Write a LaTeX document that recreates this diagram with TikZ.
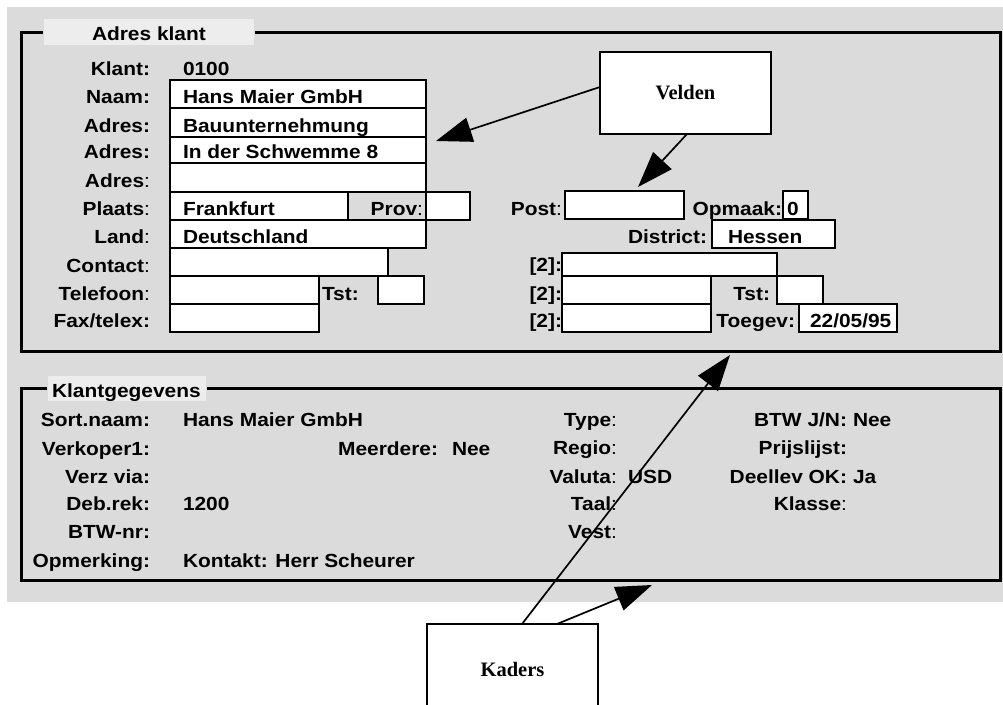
\documentclass[tikz,border=0pt]{standalone}
\usepackage{fontspec}
\setmainfont{Liberation Sans}[FakeStretch=1.1]
\newfontfamily\serifb{Liberation Serif}
\usetikzlibrary{arrows.meta,calc}
\definecolor{bgdots}{gray}{0.86}
\definecolor{lblbg}{gray}{0.93}
\begin{document}
\begin{tikzpicture}[x=1pt,y=-1pt,
  every node/.style={inner sep=0pt,outer sep=0pt},
  txt/.style={font=\fontsize{19}{22}\selectfont\bfseries},
  lbl/.style={txt,anchor=base east},
  val/.style={txt,anchor=base west},
  field/.style={draw=black,fill=white,line width=1.5pt},
  frame/.style={draw=black,line width=3pt},
  callout/.style={draw=black,fill=white,line width=1.5pt,
     font=\fontsize{20.5}{24}\selectfont\serifb\bfseries},
  pointer/.style={draw=black,line width=1.7pt,-{Triangle[length=36pt,width=25pt]}}]
\useasboundingbox (0,0) rectangle (1003,704);
\clip (0,0) rectangle (1003,704);
% background
\fill[bgdots] (7,7) rectangle (1003,602);
% frames
\draw[frame] (43,32) -- (21,32) -- (21,351) -- (1000,351) -- (1000,32) -- (255,32);
\fill[lblbg] (44,19) rectangle (254,45);
\node[val] (tadres) at (92,40) {Adres klant};
\draw[frame] (47,388) -- (21,388) -- (21,580) -- (1000,580) -- (1000,388) -- (207,388);
\fill[lblbg] (48,376) rectangle (206,401);
\node[val] (tklant) at (52,397) {Klantgegevens};
% fields, top frame
\path[field] (170,80) rectangle (426,108);
\path[field] (170,108) rectangle (426,137);
\path[field] (170,137) rectangle (426,163);
\path[field] (170,163) rectangle (426,192);
\path[field] (170,192) rectangle (348,220);
\draw[line width=1.5pt] (348,192) -- (426,192);
\path[field] (426,192) rectangle (470,220);
\path[field] (170,220) rectangle (426,248);
\path[field] (170,248) rectangle (388,276);
\path[field] (170,276) rectangle (319,304);
\path[field] (378,276) rectangle (424,304);
\path[field] (170,304) rectangle (319,332);
\path[field] (565,191) rectangle (684,219);
\path[field] (783,191) rectangle (808,219);
\path[field] (712,220) rectangle (835,248);
\path[field] (562,253) rectangle (777,276);
\path[field] (562,276) rectangle (711,304);
\path[field] (777,276) rectangle (823,304);
\path[field] (562,304) rectangle (711,332);
\path[field] (799,304) rectangle (897,332);
% labels top frame
\node[lbl] (l1) at (150,75) {Klant:};
\node[val] (v1) at (183,75) {0100};
\node[lbl] (l2) at (150,103) {Naam:};
\node[val] (v2) at (183,103) {Hans Maier GmbH};
\node[lbl] (l3) at (150,132) {Adres:};
\node[val] (v3) at (183,132) {Bauunternehmung};
\node[lbl] (l4) at (150,158) {Adres:};
\node[val] (v4) at (183,158) {In der Schwemme 8};
\node[lbl] (l5) at (150,187) {Adres\textmd{:}};
\node[lbl] (l6) at (150,215) {Plaats\textmd{:}};
\node[val] (v6) at (183,215) {Frankfurt};
\node[lbl] (l6b) at (423,215) {Prov\textmd{:}};
\node[lbl] (l7) at (150,243) {Land\textmd{:}};
\node[val] (v7) at (183,243) {Deutschland};
\node[lbl] (l8) at (150,272) {Contact\textmd{:}};
\node[lbl] (l9) at (150,300) {Telefoon\textmd{:}};
\node[val] (l9b) at (322,300) {Tst:};
\node[lbl] (l10) at (150,327) {Fax/telex:};
\node[lbl] (r1) at (562,215) {Post\textmd{:}};
\node[lbl] (r1b) at (782,215) {Opmaak:};
\node[val] (r1c) at (787,215) {0};
\node[lbl] (r2) at (707,243) {District:};
\node[val] (r2b) at (728,243) {Hessen};
\node[lbl] (r3) at (562,271) {[2]:};
\node[lbl] (r4) at (562,300) {[2]:};
\node[lbl] (r4b) at (770,300) {Tst:};
\node[lbl] (r5) at (562,327) {[2]:};
\node[lbl] (r5b) at (795,327) {Toegev:};
\node[val] (r5c) at (810,327) {22/05/95};
% labels bottom frame
\node[lbl] (k1) at (150,426) {Sort.naam:};
\node[val] (k1v) at (183,426) {Hans Maier GmbH};
\node[lbl] (k2) at (150,455) {Verkoper1:};
\node[lbl] (k2b) at (438,455) {Meerdere:};
\node[val] (k2v) at (452,455) {Nee};
\node[lbl] (k3) at (150,483) {Verz via:};
\node[lbl] (k4) at (150,510) {Deb.rek:};
\node[val] (k4v) at (183,510) {1200};
\node[lbl] (k5) at (150,538) {BTW-nr:};
\node[lbl] (k6) at (150,567) {Opmerking:};
\node[val] (k6v) at (183,567) {Kontakt: Herr Scheurer};
\node[lbl] (m1) at (617,426) {Type\textmd{:}};
\node[lbl] (m2) at (617,454) {Regio\textmd{:}};
\node[lbl] (m3) at (617,483) {Valuta\textmd{:}};
\node[val] (m3v) at (628,483) {USD};
\node[lbl] (m4) at (617,510) {Taal\textmd{:}};
\node[lbl] (m5) at (617,538) {Vest\textmd{:}};
\node[lbl] (n1) at (847,426) {BTW J/N:};
\node[val] (n1v) at (853,426) {Nee};
\node[lbl] (n2) at (847,454) {Prijslijst:};
\node[lbl] (n3) at (847,483) {Deellev OK:};
\node[val] (n3v) at (853,483) {Ja};
\node[lbl] (n4) at (847,510) {Klasse\textmd{:}};
% callouts
\node[callout,minimum width=171pt,minimum height=82pt] (velden) at (685.5,93) {Velden};
\node[callout,minimum width=171pt,minimum height=90pt] (kaders) at (512.5,669) {Kaders};
\coordinate (t1) at (436,141);
\coordinate (t2) at (638,187);
\coordinate (t3) at (730,355);
\coordinate (t4) at (652,585);
\draw[pointer] ([yshift=6pt]velden.west) -- (t1);
\draw[pointer] ([xshift=1.5pt]velden.south) -- (t2);
\draw[pointer] ([xshift=9.5pt]kaders.north) -- (t3);
\draw[pointer] ([xshift=44.5pt]kaders.north) -- (t4);
\end{tikzpicture}
\end{document}
